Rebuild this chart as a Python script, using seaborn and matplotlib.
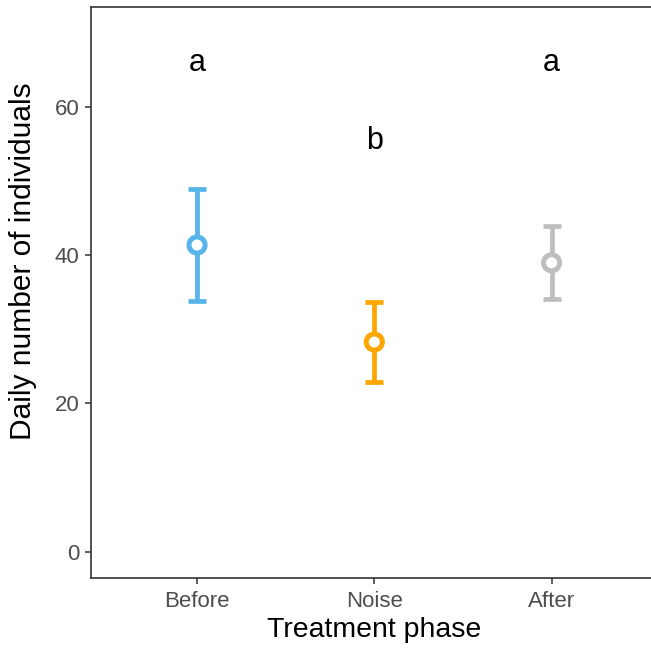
import numpy as np
import pandas as pd
import matplotlib
matplotlib.use("Agg")
import matplotlib.pyplot as plt
import seaborn as sns

# values
phases = ["Before", "Noise", "After"]
means = [41.4, 28.3, 39.0]
se = [7.5, 5.35, 4.9]
colors = ["#56B4E9", "#FFA500", "#BEBEBE"]
letters = ["a", "b", "a"]
letter_y = [64.9, 54.3, 64.9]

df = pd.DataFrame({"phase": phases, "mean": means, "se": se})

sns.set_theme(style="white")
plt.rcParams["font.family"] = ["Liberation Sans", "DejaVu Sans"]

fig = plt.figure(figsize=(6.51, 6.48), dpi=100)
ax = fig.add_axes([0.1393, 0.1076, 0.8714, 0.8812])

# error bars (mean +/- se)
for i, row in df.iterrows():
    ax.errorbar(i, row["mean"], yerr=row["se"], fmt="none", ecolor=colors[i],
                elinewidth=3.4, capsize=6.3, capthick=3.4, zorder=2)

# open circles for the means
sns.scatterplot(data=df, x="phase", y="mean", hue="phase", palette=colors,
                s=135, marker="o", linewidth=3.6, legend=False, ax=ax, zorder=3)
pts = ax.collections[-1]
pts.set_facecolor("white")
pts.set_edgecolor(colors)

for i, lab in enumerate(letters):
    ax.text(i, letter_y[i], lab, ha="center", va="baseline", fontsize=22,
            color="black")

ax.set_xlim(-0.6, 2.6)
ax.set_ylim(-3.6, 73.5)
ax.set_yticks([0, 20, 40, 60])
ax.set_xticks(range(len(phases)))
ax.set_xticklabels(phases)

for sp in ax.spines.values():
    sp.set_color("#333333")
    sp.set_linewidth(1.2)
    sp.set_visible(True)
ax.tick_params(axis="both", length=4, width=1.1, color="#333333",
               labelsize=16, labelcolor="#4D4D4D", left=True, bottom=True)
ax.tick_params(axis="x", pad=5)
ax.tick_params(axis="y", pad=4)
ax.set_xlabel("Treatment phase", fontsize=20.5, color="black", labelpad=4)
ax.set_ylabel("Daily number of individuals", fontsize=21.5, color="black")
ax.yaxis.set_label_coords(-0.095, 0.556)
ax.grid(False)

fig.savefig("out.png", dpi=100)
